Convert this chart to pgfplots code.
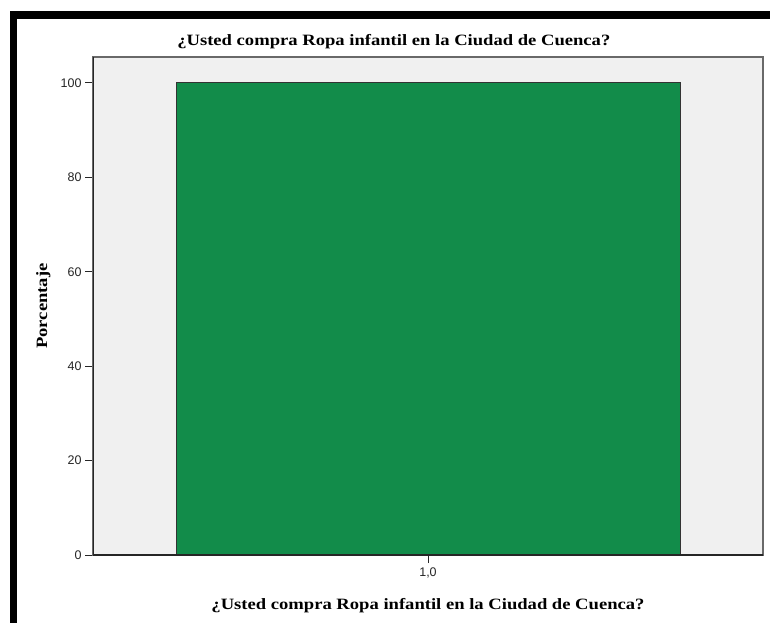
\documentclass[border=0pt]{standalone}
\usepackage{graphicx}
\usepackage{fontspec}
\setmainfont{Liberation Serif}
\newfontfamily\tickfont{Liberation Sans}
\usepackage{pgfplots}
\pgfplotsset{compat=1.18}

\definecolor{panelgrey}{RGB}{240,240,240}
\definecolor{bargreen}{RGB}{18,140,74}
\definecolor{framegrey}{RGB}{105,105,105}

% labels in the chart are a wide bold serif
\newcommand{\lbl}[1]{\scalebox{1.24}[1.05]{\fontsize{15}{18}\selectfont\bfseries #1}}

\begin{document}
\begin{tikzpicture}[x=1pt,y=1pt]
  \fill[white] (0,0) rectangle (770,623);
  \path[use as bounding box] (0,0) rectangle (770,623);
  % outer black border (top and left only, image is cropped)
  \fill[black] (10,604) rectangle (770,612);
  \fill[black] (10,0) rectangle (17,612);

  \begin{axis}[
      at={(93pt,68pt)}, anchor=south west,
      scale only axis,
      width=670pt, height=498pt,
      xmin=0, xmax=1,
      ymin=0, ymax=105.5,
      xtick={0.5}, xticklabels={1{,}0},
      ytick={0,20,40,60,80,100},
      tick align=outside,
      major tick length=8pt,
      xtick pos=bottom, ytick pos=left,
      tick style={black!85, line width=1pt},
      axis background/.style={fill=panelgrey},
      axis line style={draw=framegrey, line width=1.6pt},
      /pgf/number format/assume math mode=true,
      ticklabel style={font=\tickfont\fontsize{12.5}{14}\selectfont, text=black!85},
      xticklabel style={yshift=-1pt},
      title={\lbl{¿Usted compra Ropa infantil en la Ciudad de Cuenca?}},
      title style={at={(axis description cs:0.449,1.019)}, anchor=center},
      xlabel={\lbl{¿Usted compra Ropa infantil en la Ciudad de Cuenca?}},
      xlabel style={at={(axis description cs:0.5,-0.102)}, anchor=center},
      ylabel={\lbl{Porcentaje}},
      ylabel style={at={(axis description cs:-0.074,0.5)}, anchor=center},
    ]
    \addplot[ybar, bar width=504pt, fill=bargreen, draw=black!80, line width=1pt]
      coordinates {(0.5,100)};
    \draw[black!85, line width=1.2pt]
      (rel axis cs:0,1) -- (rel axis cs:0,0) -- (rel axis cs:1,0);
  \end{axis}
\end{tikzpicture}
\end{document}
